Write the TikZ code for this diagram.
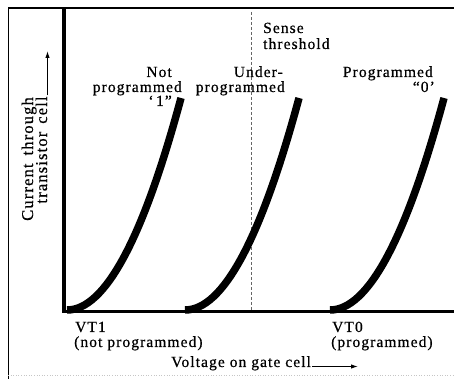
\documentclass[tikz,border=0pt]{standalone}
\usepackage{fontspec}
\setmainfont{Liberation Serif}[LetterSpace=7,FakeBold=0.6]
\usetikzlibrary{arrows.meta,calc}
\begin{document}
\begin{tikzpicture}[x=1pt,y=1pt,
  lbl/.style={inner sep=0pt, font=\fontsize{15.5}{16}\selectfont},
  ylbl/.style={inner sep=0pt, rotate=90, anchor=base, font=\fontsize{16.5}{17}\selectfont},
  curve/.style={line width=7.5pt, line cap=butt},
  arr/.style={line width=1.1pt, -{Latex[length=7pt,width=4.5pt]}},
  frame/.style={line width=0.9pt},
  thresh/.style={line width=0.7pt, gray!80!black, dash pattern=on 3pt off 2pt}]
\useasboundingbox (0,0) rectangle (454,379);
% frame
\coordinate (tl) at (8,371);
\coordinate (tr) at (454,371);
\coordinate (bl) at (8,0);
\draw[frame] (bl) -- (tl);
\draw[line width=1.8pt] (tl) -- (tr);
\draw[gray!45, line width=0.6pt, dotted] (8,4) -- (454,4);
% axes
\coordinate (o) at (64,67);
\coordinate (ytop) at (64,371);
\coordinate (xend) at (454,67);
\draw[line width=4pt] (ytop) -- (o);
\draw[line width=3pt] (62,67) -- (xend);
% threshold
\coordinate (th1) at (251,367);
\coordinate (th0) at (251,68);
\draw[thresh] (th1) -- (th0);
% curves
\foreach \x/\n in {67/a,185/b,330/c}{
  \coordinate (\n0) at (\x,69);
  \coordinate (\n1) at (\x+114,281);
  \draw[curve] (\n0) .. controls ($(\n0)+(38,0)$) and ($(\n0)+(76,71)$) .. (\n1);
}
% labels
\node[lbl, anchor=base west] (s1) at (263,346) {Sense};
\node[lbl, anchor=base west] (s2) at (263,330) {threshold};
\node[lbl, anchor=base east] (n1) at (172,302) {Not};
\node[lbl, anchor=base east] (n2) at (182,287) {programmed};
\node[lbl, anchor=base east] (n3) at (172,273) {‘\,1”};
\node[lbl, anchor=base east] (u1) at (283,302) {Under-};
\node[lbl, anchor=base east] (u2) at (285,287) {programmed};
\node[lbl, anchor=base east] (p1) at (433,302) {Programmed};
\node[lbl, anchor=base east] (p2) at (435,287) {“0’};
\node[lbl, anchor=base west] (v1) at (75,47) {VT1};
\node[lbl, anchor=base west] (v2) at (74,32) {(not programmed)};
\node[lbl, anchor=base west] (w1) at (332,47) {VT0};
\node[lbl, anchor=base west] (w2) at (331,32) {(programmed)};
\node[lbl, anchor=base west] (volt) at (171,12) {Voltage on gate cell};
\coordinate (xtip) at (358,12.5);
\draw[arr] ([xshift=1pt,yshift=0.5pt]volt.base east) -- (xtip);
\node[ylbl] (cur) at (33,220) {Current\hspace{8pt}through};
\node[ylbl] (trans) at (47,229) {transistor\hspace{8pt}cell};
\coordinate (ytip) at (47.5,328);
\draw[arr] ([yshift=1pt,xshift=0.5pt]trans.base east) -- (ytip);
\end{tikzpicture}
\end{document}
